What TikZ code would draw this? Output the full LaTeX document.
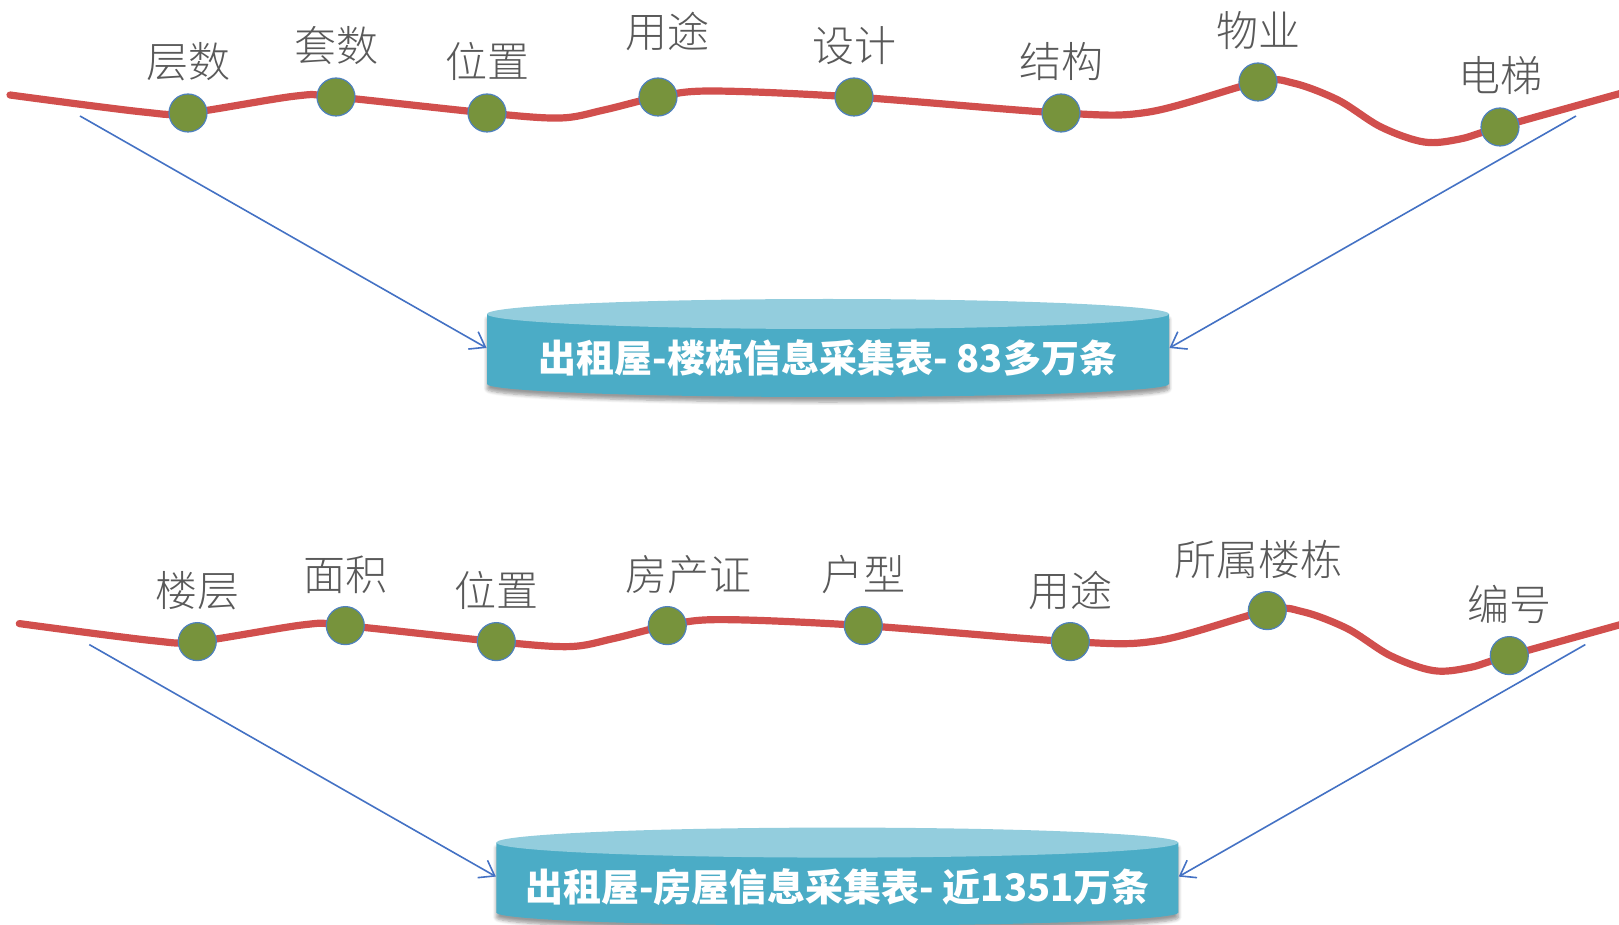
\documentclass[tikz,border=0pt]{standalone}
\usepackage{fontspec}
\newfontfamily\cjk{Noto Sans CJK SC}
\newfontfamily\cjklight{Noto Sans CJK SC Light}
\usetikzlibrary{arrows.meta,shadows.blur}

\definecolor{routered}{RGB}{209,79,77}
\definecolor{stopgreen}{RGB}{119,147,60}
\definecolor{rimblue}{RGB}{79,129,189}
\definecolor{feedblue}{RGB}{68,114,196}
\definecolor{drumside}{RGB}{75,172,198}
\definecolor{drumtop}{RGB}{147,205,221}
\definecolor{tagtext}{RGB}{89,89,89}

\begin{document}
\begin{tikzpicture}[x=0.5pt, y=-0.5pt]
    \tikzstyle{route}=[routered, line width=3.6pt, line cap=round]
    \tikzstyle{stopdot}=[circle, fill=stopgreen, draw=rimblue, line width=0.6pt,
        minimum size=19pt, inner sep=0pt, outer sep=0pt]
    \tikzstyle{stoplabel}=[font=\cjklight\fontsize{21pt}{21pt}\selectfont, text=tagtext,
        inner sep=0pt, text height=16pt, text depth=4pt, yshift=4pt]
    \tikzstyle{feed}=[feedblue, line width=0.8pt, -{Straight Barb[length=7pt,width=10pt]}]
    \tikzstyle{tabletext}=[font=\cjk\bfseries\fontsize{19pt}{19pt}\selectfont, text=white,
        inner sep=0pt, minimum width=341pt]

    \useasboundingbox (0,0) rectangle (1619,925);
    \clip (0,0) rectangle (1619,925);

    % upper table: buildings
    \draw [route] plot [smooth, tension=0.55] coordinates {(10,95) (143,112) (188,113)
        (296,96) (336,97) (487,113) (560,118) (604,110) (658,97) (711,91) (854,97)
        (1061,113) (1149,112) (1258,82) (1293,83) (1338,100) (1381,127) (1424,142)
        (1460,139) (1500,127) (1640,88)};

    \node (t1) at (188,113) [stopdot, label={[stoplabel]above:层数}] {};
    \node (t2) at (336,97) [stopdot, label={[stoplabel]above:套数}] {};
    \node (t3) at (487,113) [stopdot, label={[stoplabel]above:位置}] {};
    \node (t4) at (658,97) [stopdot, label={[stoplabel, xshift=4.5pt, yshift=7pt]above:用途}] {};
    \node (t5) at (854,97) [stopdot, label={[stoplabel]above:设计}] {};
    \node (t6) at (1061,113) [stopdot, label={[stoplabel]above:结构}] {};
    \node (t7) at (1258,82) [stopdot, label={[stoplabel]above:物业}] {};
    \node (t8) at (1500,127) [stopdot, label={[stoplabel]above:电梯}] {};

    \fill [drumside, blur shadow={shadow xshift=0pt, shadow yshift=-2.5pt, shadow blur steps=6}]
        (487,314) -- (487,384) arc [start angle=180, end angle=360, x radius=170.5pt, y radius=6.5pt]
        -- (1169,314) -- cycle;
    \fill [drumtop] (828,314) ellipse [x radius=170.5pt, y radius=7.5pt];
    \node (tab1) at (828,358) [tabletext] {出租屋-楼栋信息采集表- 83多万条};

    \coordinate (tin1) at (80,116);
    \coordinate (tin2) at (1576,116);
    \draw [feed] (tin1) to ([yshift=5pt]tab1.west);
    \draw [feed] (tin2) to ([yshift=5pt]tab1.east);

    % lower table: rooms
    \begin{scope}[xshift=4.65pt, yshift=-264.3pt]
    \draw [route] plot [smooth, tension=0.55] coordinates {(10,95) (143,112) (188,113)
        (296,96) (336,97) (487,113) (560,118) (604,110) (658,97) (711,91) (854,97)
        (1061,113) (1149,112) (1258,82) (1293,83) (1338,100) (1381,127) (1424,142)
        (1460,139) (1500,127) (1640,88)};

    \node (b1) at (188,113) [stopdot, label={[stoplabel]above:楼层}] {};
    \node (b2) at (336,97) [stopdot, label={[stoplabel]above:面积}] {};
    \node (b3) at (487,113) [stopdot, label={[stoplabel]above:位置}] {};
    \node (b4) at (658,97) [stopdot, label={[stoplabel, xshift=10.5pt]above:房产证}] {};
    \node (b5) at (854,97) [stopdot, label={[stoplabel]above:户型}] {};
    \node (b6) at (1061,113) [stopdot, label={[stoplabel]above:用途}] {};
    \node (b7) at (1258,82) [stopdot, label={[stoplabel, xshift=-4.5pt]above:所属楼栋}] {};
    \node (b8) at (1500,127) [stopdot, label={[stoplabel]above:编号}] {};

    \fill [drumside, blur shadow={shadow xshift=0pt, shadow yshift=-2.5pt, shadow blur steps=6}]
        (487,314) -- (487,384) arc [start angle=180, end angle=360, x radius=170.5pt, y radius=6.5pt]
        -- (1169,314) -- cycle;
    \fill [drumtop] (828,314) ellipse [x radius=170.5pt, y radius=7.5pt];
    \node (tab2) at (828,358) [tabletext] {出租屋-房屋信息采集表- 近1351万条};

    \coordinate (bin1) at (80,116);
    \coordinate (bin2) at (1576,116);
    \draw [feed] (bin1) to ([yshift=5pt]tab2.west);
    \draw [feed] (bin2) to ([yshift=5pt]tab2.east);
    \end{scope}

\end{tikzpicture}
\end{document}
